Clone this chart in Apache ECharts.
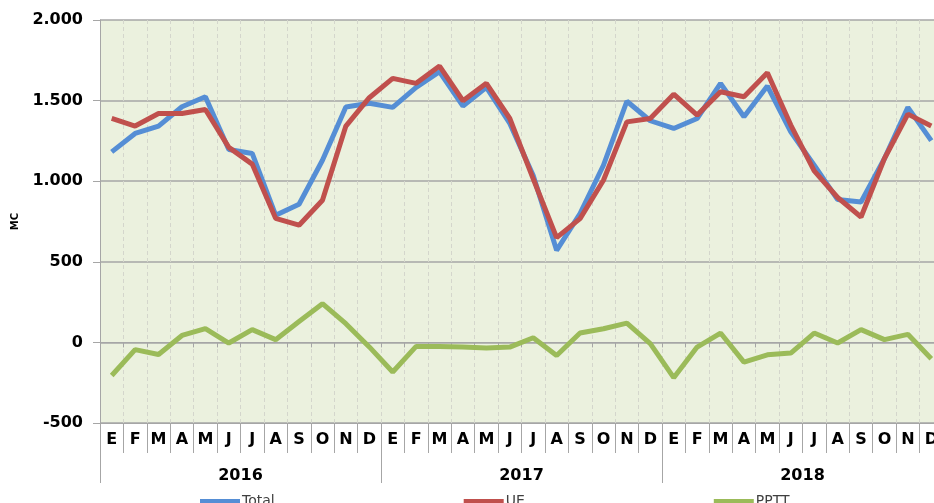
<!DOCTYPE html>
<html>
<head>
<meta charset="utf-8">
<script src="https://cdn.jsdelivr.net/npm/echarts@6/dist/echarts.min.js"></script>
<style>
  html, body { margin: 0; padding: 0; background: #fff; }
  #chart { width: 934px; height: 503px; }
</style>
</head>
<body>
<div id="chart"></div>
<script>
// meses y años
const months = ['E','F','M','A','M','J','J','A','S','O','N','D'];
const years = ['2016', '2017', '2018'];
const cats = [].concat(months, months, months);

// MC
const total = [1182, 1296, 1342, 1462, 1524, 1197, 1172, 789, 857, 1130, 1460, 1484,
               1458, 1582, 1679, 1466, 1582, 1358, 1035, 571, 799, 1099, 1496, 1375,
               1327, 1389, 1607, 1400, 1590, 1306, 1099, 886, 871, 1141, 1458, 1252];
const ue    = [1389, 1342, 1420, 1420, 1445, 1210, 1106, 770, 727, 882, 1342, 1518,
               1638, 1607, 1714, 1499, 1607, 1389, 1015, 650, 768, 1006, 1368, 1389,
               1540, 1410, 1555, 1524, 1673, 1348, 1064, 899, 778, 1141, 1416, 1342];
const pptt  = [-205, -45, -75, 43, 85, -4, 79, 17, 130, 240, 116, -28,
               -184, -25, -25, -29, -35, -29, 29, -81, 58, 85, 120, -8,
               -219, -29, 58, -122, -77, -66, 58, -4, 79, 17, 50, -101];

const font = 'DejaVu Sans, Verdana, sans-serif';
const gray = '#a6a6a6';

var chart = echarts.init(document.getElementById('chart'));
chart.setOption({
  animation: false,
  grid: {
    left: 100, top: 20, width: 843, height: 403,
    outerBoundsMode: 'none', containLabel: false,
    show: true, backgroundColor: '#ebf1de', borderWidth: 0
  },
  legend: {
    data: ['Total', 'UE', 'PPTT'],
    left: 195, top: 489,
    icon: 'rect', itemWidth: 40, itemHeight: 4, itemGap: 189,
    textStyle: { fontFamily: font, fontSize: 14, color: '#404040', padding: [0, 0, 0, -3] }
  },
  xAxis: [
    {
      type: 'category', data: cats, position: 'bottom',
      axisLine: { show: true, onZero: false, lineStyle: { color: gray } },
      axisTick: { show: true, interval: 0, length: 30, lineStyle: { color: gray } },
      axisLabel: { interval: 0, margin: 9, fontFamily: font, fontWeight: 'bold', fontSize: 16, color: '#000' },
      splitLine: { show: true, interval: 0, lineStyle: { color: '#d4d6cc', type: [4, 3] } }
    },
    {
      type: 'category', data: years, position: 'bottom', offset: 30,
      axisLine: { show: false, onZero: false },
      axisTick: { show: true, interval: 0, length: 30, lineStyle: { color: gray } },
      axisLabel: { interval: 0, margin: 15, fontFamily: font, fontWeight: 'bold', fontSize: 16, color: '#000' }
    },
    {
      type: 'category', data: cats, position: 'bottom',
      axisLine: { show: true, onZero: true, lineStyle: { color: gray } },
      axisTick: { show: true, interval: 0, length: 5, lineStyle: { color: gray } },
      axisLabel: { show: false }
    }
  ],
  yAxis: {
    type: 'value', min: -500, max: 2000, interval: 500,
    name: 'MC', nameLocation: 'middle', nameGap: 80, nameRotate: 90,
    nameTextStyle: { fontFamily: font, fontWeight: 'bold', fontSize: 10, color: '#000' },
    axisLine: { show: true, lineStyle: { color: gray } },
    axisTick: { show: true, length: 7, lineStyle: { color: gray } },
    axisLabel: {
      margin: 17, fontFamily: font, fontWeight: 'bold', fontSize: 16, color: '#000',
      formatter: function (v) { return String(v).replace(/(\d)(\d{3})$/, '$1.$2'); }
    },
    splitLine: { lineStyle: { color: gray, width: 1.5 } }
  },
  series: [
    { name: 'Total', type: 'line', data: total, symbol: 'none', color: '#558ed5', lineStyle: { width: 5 } },
    { name: 'UE', type: 'line', data: ue, symbol: 'none', color: '#c0504d', lineStyle: { width: 5 } },
    { name: 'PPTT', type: 'line', data: pptt, symbol: 'none', color: '#9bbb59', lineStyle: { width: 5 } }
  ]
});
</script>
</body>
</html>
